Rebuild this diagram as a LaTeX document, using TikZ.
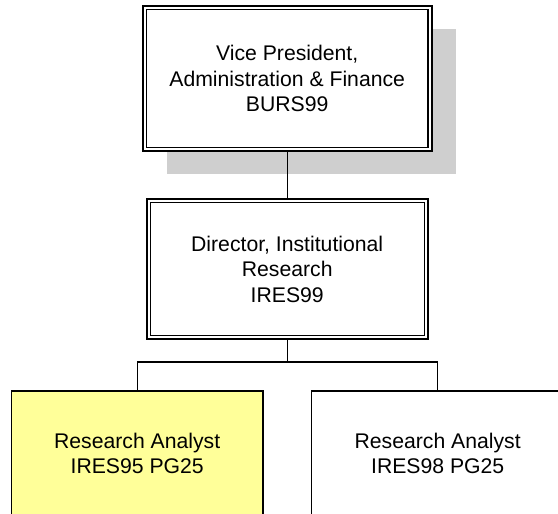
\documentclass[tikz,border=0pt]{standalone}
\usepackage{fontspec}
\setmainfont{Liberation Sans}
\usetikzlibrary{shadows}
\definecolor{shadowgray}{HTML}{CFCFCF}
\definecolor{paleyellow}{HTML}{FFFF99}
\tikzset{
  txt/.style={align=center, font=\fontsize{21.2pt}{25.5pt}\selectfont, inner sep=0pt},
  dblbox/.style={txt, draw, line width=1.8pt, fill=white},
  innerline/.style={line width=1.2pt},
  plainbox/.style={txt, draw, line width=1.3pt, fill=white},
  conn/.style={line width=1.3pt},
  vpshadow/.style={general shadow={fill=shadowgray, shadow xshift=24pt, shadow yshift=-23.5pt}}
}
\begin{document}
\begin{tikzpicture}[x=1pt,y=1pt]
\useasboundingbox (0,0) rectangle (558,514);
\clip (0,0) rectangle (558,514);
% VP
\node[dblbox, vpshadow, minimum width=289pt, minimum height=145pt] (vp) at (287.2,435.5)
  {Vice President,\\Administration \& Finance\\BURS99};
\draw[innerline] ([shift={(4.6pt,-4.6pt)}]vp.north west) rectangle ([shift={(-4.6pt,4.6pt)}]vp.south east);
% Director
\node[dblbox, minimum width=281pt, minimum height=140pt] (dir) at (287.2,245)
  {Director, Institutional\\Research\\IRES99};
\draw[innerline] ([shift={(4.4pt,-4.4pt)}]dir.north west) rectangle ([shift={(-4.4pt,4.4pt)}]dir.south east);
% Analysts
\node[plainbox, fill=paleyellow, minimum width=251.5pt, minimum height=125pt] (ra1) at (137.2,60.5)
  {Research Analyst\\IRES95 PG25};
\node[plainbox, minimum width=253pt, minimum height=125pt] (ra2) at (437.7,60.5)
  {Research Analyst\\IRES98 PG25};
% connectors
\coordinate (j) at (287.2,152);
\draw[conn] (vp.south) -- (dir.north);
\draw[conn] (dir.south) -- (j);
\draw[conn] (ra1.north) |- (j) -| (ra2.north);
\end{tikzpicture}
\end{document}
